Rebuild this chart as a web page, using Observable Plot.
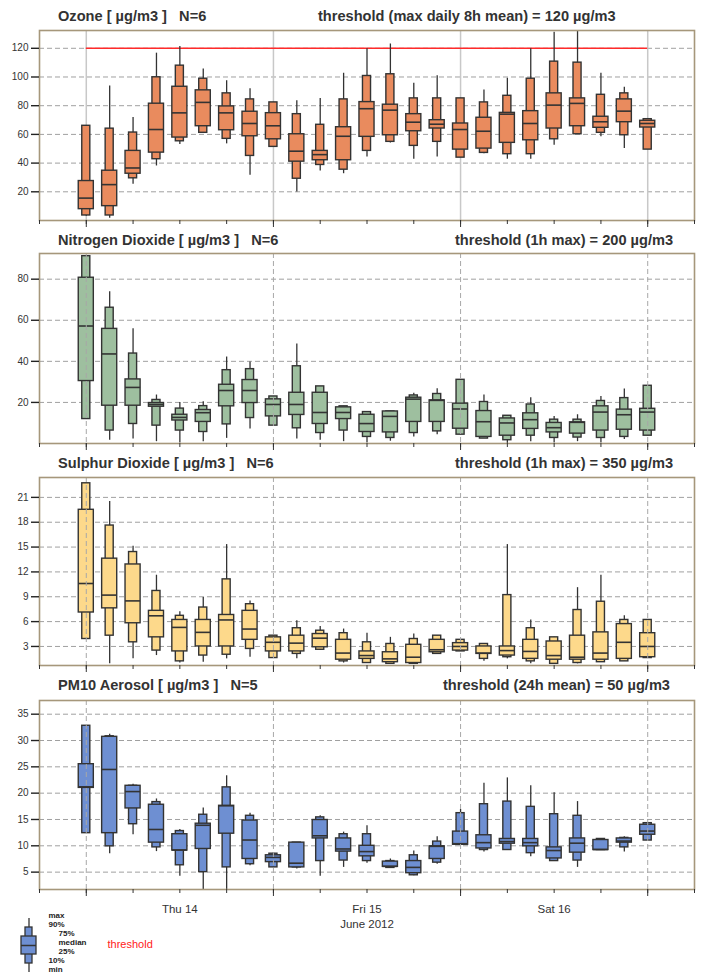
<!DOCTYPE html>
<html><head><meta charset="utf-8">
<script src="https://cdn.jsdelivr.net/npm/d3@7"></script>
<script src="https://cdn.jsdelivr.net/npm/@observablehq/plot@0.6"></script>
<style>
body{margin:0;background:#fff;font-family:"Liberation Sans",Arial,sans-serif;}
#root{position:relative;width:702px;height:980px;overflow:hidden;background:#fff;}
.t{position:absolute;font-weight:bold;font-size:14.6px;color:#333;white-space:pre;line-height:16px;}
.p{position:absolute;left:0;}
</style></head><body><div id="root"></div>
<script>
// sample times (3-hourly, UTC)
const times = [
 "2012-06-14T00:00","2012-06-14T03:00","2012-06-14T06:00","2012-06-14T09:00","2012-06-14T12:00","2012-06-14T15:00","2012-06-14T18:00","2012-06-14T21:00",
 "2012-06-15T00:00","2012-06-15T03:00","2012-06-15T06:00","2012-06-15T09:00","2012-06-15T12:00","2012-06-15T15:00","2012-06-15T18:00","2012-06-15T21:00",
 "2012-06-16T00:00","2012-06-16T03:00","2012-06-16T06:00","2012-06-16T09:00","2012-06-16T12:00","2012-06-16T15:00","2012-06-16T18:00","2012-06-16T21:00",
 "2012-06-17T00:00"];
const dayLines = ["2012-06-14T00:00","2012-06-15T00:00","2012-06-16T00:00","2012-06-17T00:00"];
const dayLabelTimes = ["2012-06-14T12:00","2012-06-15T12:00","2012-06-16T12:00"];
const dayLabels = ["Thu 14","Fri 15\nJune 2012","Sat 16"];
const xStart = "2012-06-13T18:00", xEnd = "2012-06-17T06:00";

// rows: [min, p10, p25, median, p75, p90, max]
const ozone = [
 [3,3.5,7.9,15.6,27.5,66,66],[1.5,3.5,10,25,34.7,64,93.7],[25.2,29.4,32.6,36.6,48.5,61.3,71.8],[38,42.7,47.3,63.4,81.4,99.8,116.6],
 [52.9,55.2,57.8,75,93.2,107.9,121.2],[61,61.1,65.7,82.3,90.7,98.8,105.6],[53.4,56.9,62.9,75,79.5,88.6,97.4],[31.5,45,58.7,67.6,75.8,84.4,91.8],
 [51,51.3,56.6,66,74.8,82.3,82.3],[19.8,29.1,41,48.3,60.1,74.1,83.4],[34.5,38.7,42,45.9,48.5,66.7,85],[32.6,35.4,42,58.7,65,84.4,102.6],
 [44.3,48.5,58.3,77.9,82.5,100.7,119.6],[54,54.8,59.4,76.9,80.7,101.9,123],[42.7,52,62.2,68.5,74.1,85.1,95.6],[44.3,54.8,64.1,67.1,69.9,85.1,100.9],
 [43.8,43.8,49.4,63.4,67.6,85.1,85.1],[46.6,47.1,50.1,62.2,71.6,82.3,90.9],[42.7,46.2,54.1,74.1,75,86.9,99.1],[42.7,46.2,55.9,67.6,76.2,98.8,119.6],
 [52.4,56.6,64.1,80.4,88.6,110.7,131.2],[60.1,60.1,65.7,81.6,85.1,110,132],[58.3,61.1,64.6,68.8,72.3,87.6,102.6],[50.1,59.4,68.5,76.2,84.4,88.6,92.8],
 [49.4,49.4,64.8,67.6,69.5,70.6,70.6]];
const no2 = [
 [11.9,11.9,30.4,57.2,80.7,91.2,91.2],[1.6,6.3,18.4,43.6,55.8,66.1,73.9],[2.2,9.5,18.4,27.3,31.2,43.8,55.9],[0.9,8.7,17.9,19,19.7,21.2,23.6],
 [0.3,6.3,11.2,12.7,14,17,20],[0.8,5.6,10.5,15,16.3,18.2,20.3],[2.5,9.3,18.1,25.8,28.6,35.7,42.1],[7.1,12.4,19.7,25.8,30.9,36.2,39.7],
 [8.7,8.7,13.2,19,21.5,22.9,22.9],[2.2,7.4,13.9,19,24.7,37.6,48.5],[1.6,5.1,9.5,15.1,24.7,27.8,27.8],[0.9,6.3,11.9,15.1,17.6,18.1,18.1],
 [0.3,3.2,5.6,9.7,14,15.3,15.3],[1.1,2.7,5.4,13.2,15.6,15.6,15.6],[3.2,5.1,10.5,21.6,22.3,23.4,24.5],[4.3,5.9,10.5,21,21,24.1,26.6],
 [4.3,4.3,7.2,16.8,19.4,31,31],[2.4,2.4,3.2,10.6,15.8,20.2,23.6],[0,1.6,3.8,10,12.2,13.5,13.5],[0.9,3.8,7.1,11.6,14.7,19,22.3],
 [0.3,2.7,5.4,7.7,10,11.6,13.2],[0.9,2.9,4.8,10.3,10.3,11.6,14],[0.3,2.7,6.3,15.3,18.1,20.7,22.9],[1.9,3.2,6.7,14,16.5,22.1,26.5],
 [3.8,3.8,6.3,15.3,16.9,28.1,28.1]];
const so2 = [
 [3.9,3.9,7.1,10.6,19.5,22.7,22.7],[0.9,4.3,7.6,9.2,13.6,17.6,20.5],[1.5,3.5,5.8,8.5,12.9,14.4,15.1],[1.9,2.5,4.1,6.7,7.3,9.7,11.6],
 [1.0,1.2,2.4,5.3,6.2,6.7,7.2],[1.1,1.9,3.0,4.7,6.2,7.7,8.9],[1.5,2.0,3.0,6.2,6.8,11.1,15.3],[1.7,2.7,3.8,5.1,7.3,8.1,8.5],
 [1.6,1.6,2.4,3.5,4.1,4.3,4.3],[1.5,2.1,2.4,3.4,4.3,5.2,6.1],[2.5,2.6,2.9,4.0,4.5,4.9,5.4],[1.0,1.2,1.4,2.2,3.8,4.6,5.1],
 [1.0,1.0,1.5,1.9,2.4,3.5,4.6],[0.9,0.9,1.1,1.5,2.3,3.3,4.1],[0.9,0.9,1.0,1.7,3.2,3.9,4.5],[2.1,2.1,2.3,2.6,3.8,4.3,4.3],
 [2.4,2.4,2.5,3.0,3.4,3.8,3.8],[1.2,1.5,2.1,2.2,3.0,3.3,3.3],[1.5,1.7,1.9,2.5,3.0,9.2,15.3],[0.9,1.2,1.5,2.4,3.8,5.2,6.2],
 [0.9,0.9,1.4,1.9,3.6,4.1,4.1],[0.9,1.0,1.4,1.7,4.3,7.4,10.1],[1.1,1.1,1.4,2.2,4.7,8.4,11.6],[1.2,1.2,1.5,3.5,5.7,6.2,6.7],
 [1.6,1.6,1.7,3.0,4.6,6.2,6.2]];
const pm10 = [
 [12.4,12.4,21.0,21.2,25.5,32.8,32.8],[8.5,9.9,12.4,24.5,30.7,30.8,31.2],[12.1,14.1,17.1,20.3,21.4,21.4,21.7],[8.9,9.7,10.6,13.1,17.8,18.3,18.9],
 [4.2,6.3,9.1,9.2,12.2,12.8,13.1],[1.0,5.0,9.4,13.9,14.2,15.9,17.2],[1.0,5.9,12.3,17.6,17.6,21.1,23.3],[6.2,6.5,7.5,11.1,14.8,15.7,16.2],
 [5.9,5.9,6.9,7.8,8.2,8.5,8.7],[5.6,5.9,5.9,6.7,10.6,10.6,10.6],[4.2,7.1,11.4,11.9,14.9,15.4,15.7],[5.9,7.2,8.9,9.4,11.4,12.2,12.6],
 [6.7,7.1,8.0,8.9,10.0,12.2,13.8],[5.8,5.8,6.0,6.1,7.0,7.1,7.5],[4.3,4.4,4.8,5.9,7.1,8.2,9.0],[6.5,6.8,7.5,9.9,9.9,10.8,11.7],
 [10.2,10.2,10.2,10.4,12.7,16.2,16.9],[8.8,9.2,9.5,10.6,12.0,17.9,21.9],[9.2,9.2,10.4,10.8,11.3,18.4,22.9],[7.9,8.6,9.9,10.6,11.3,17.4,21.4],
 [7.1,7.1,7.6,9.1,9.7,16.0,20.1],[5.9,7.2,8.7,10.5,11.4,15.7,18.4],[9.2,9.2,9.2,9.3,11.1,11.3,11.3],[8.8,9.7,10.6,10.9,11.4,11.5,11.7],
 [11.0,11.0,12.1,12.8,14.0,14.3,14.4]];

const ozoneTicks = [20,40,60,80,100,120];
const no2Ticks = [20,40,60,80];
const so2Ticks = [3,6,9,12,15,18,21];
const pm10Ticks = [5,10,15,20,25,30,35];
const ozoneThreshold = [120];

const legendLevels = ["min","10%","25%","median","75%","90%","max"];

const T = s => new Date(s + ":00Z");
const FONT = '"Liberation Sans", Arial, sans-serif';
const root = document.getElementById("root");

function addTitle(text, left, top) {
  const d = document.createElement("div");
  d.className = "t"; d.textContent = text;
  d.style.left = left + "px"; d.style.top = top + "px";
  root.appendChild(d);
}

function panel(cfg) {
  const data = cfg.rows.map((r, i) => ({t: T(times[i]), min: r[0], p10: r[1], p25: r[2], med: r[3], p75: r[4], p90: r[5], max: r[6]}));
  const mt = 4, mb = cfg.last ? 50 : 9;
  const H = cfg.bottom - cfg.top + mt + mb;
  const off = m => d => new Date(d.t.getTime() + m * 60000);
  const days = dayLines.map(T);
  const sixH = d3.utcHour.every(6).range(T(xStart), new Date(T(xEnd).getTime() + 1));
  const stroke = "#333";
  const marks = [
    Plot.gridY({ticks: cfg.ticks, stroke: "#a0a0a0", strokeOpacity: 1, strokeDasharray: "5,3", strokeWidth: 1}),
    cfg.solidDays ? Plot.ruleX(days, {stroke: "#c8c8c8", strokeWidth: 1.5}) : null,
    cfg.threshold ? Plot.ruleY(cfg.threshold, {x1: () => T(times[0]), x2: () => T(times[times.length - 1]), stroke: "#ff2a2a", strokeWidth: 1.5}) : null,
    Plot.ruleX(data, {x: "t", y1: "min", y2: "max", stroke, strokeWidth: 1.3, clip: true}),
    Plot.rect(data, {x1: off(-31), x2: off(31), y1: "p10", y2: "p90", fill: cfg.fill, stroke, strokeWidth: 1.4, clip: true}),
    Plot.rect(data, {x1: off(-58), x2: off(58), y1: "p25", y2: "p75", fill: cfg.fill, stroke, strokeWidth: 1.4, clip: true}),
    Plot.ruleY(data, {y: "med", x1: off(-58), x2: off(58), stroke, strokeWidth: 1.6}),
    cfg.solidDays ? null : Plot.ruleX(days, {stroke: "#a8a8a8", strokeDasharray: "5,3", strokeWidth: 1}),
    Plot.frame({stroke: "#a6977b", strokeWidth: 1.6}),
    Plot.axisY({ticks: cfg.ticks, tickSize: 8, tickPadding: 3, label: null, fontSize: 10, stroke: "#222", strokeWidth: 1.4}),
    Plot.axisX({ticks: sixH, tickSize: 4, tickFormat: () => "", label: null, stroke: "#333"}),
    Plot.axisX({ticks: days, tickSize: 7, tickFormat: () => "", label: null, stroke: "#333"}),
    cfg.last ? Plot.axisX({ticks: dayLabelTimes.map(T), tickSize: 0, tickPadding: 12, label: null, fontSize: 11.5, lineHeight: 1.35,
      tickFormat: d => dayLabels[dayLabelTimes.map(T).findIndex(x => +x === +d)]}) : null
  ];
  const svg = Plot.plot({
    width: 702, height: H,
    marginLeft: 39, marginRight: 8, marginTop: mt, marginBottom: mb,
    style: {fontFamily: FONT, fontSize: "10px", color: "#333", background: "transparent", overflow: "visible"},
    x: {type: "utc", domain: [T(xStart), T(xEnd)], axis: null},
    y: {domain: cfg.domain, axis: null},
    marks
  });
  svg.classList.add("p");
  svg.style.top = (cfg.top - mt) + "px";
  root.appendChild(svg);
}

panel({rows: ozone, fill: "#e98b5e", domain: [0, 132.4], ticks: ozoneTicks, solidDays: true, threshold: ozoneThreshold, top: 30, bottom: 220});
panel({rows: no2, fill: "#9ebf9f", domain: [0, 92.5], ticks: no2Ticks, top: 253, bottom: 443});
panel({rows: so2, fill: "#fdd98b", domain: [0.7, 23.4], ticks: so2Ticks, top: 477, bottom: 665});
panel({rows: pm10, fill: "#6e8fd2", domain: [1.7, 37.6], ticks: pm10Ticks, top: 700, bottom: 889, last: true});

addTitle("Ozone [ µg/m3 ]   N=6", 58, 8);
addTitle("threshold (max daily 8h mean) = 120 µg/m3", 318, 8);
addTitle("Nitrogen Dioxide [ µg/m3 ]   N=6", 58, 232);
addTitle("threshold (1h max) = 200 µg/m3", 455, 232);
addTitle("Sulphur Dioxide [ µg/m3 ]   N=6", 58, 455);
addTitle("threshold (1h max) = 350 µg/m3", 455, 455);
addTitle("PM10 Aerosol [ µg/m3 ]   N=5", 58, 677);
addTitle("threshold (24h mean) = 50 µg/m3", 443, 677);

// legend
const lg = legendLevels.map((name, i) => ({name, i}));
const glyph = [{min: 0, p10: 1, p25: 2, med: 3, p75: 4, p90: 5, max: 6}];
const leg = Plot.plot({
  width: 170, height: 70, margin: 0, marginTop: 8, marginBottom: 8,
  x: {domain: [0, 170], range: [0, 170], axis: null},
  y: {domain: [0, 6], axis: null},
  style: {fontFamily: FONT, color: "#222", background: "transparent", overflow: "visible"},
  marks: [
    Plot.ruleX(glyph, {x: () => 28.5, y1: "min", y2: "max", stroke: "#333", strokeWidth: 1.3}),
    Plot.rect(glyph, {x1: () => 25, x2: () => 32, y1: "p10", y2: "p90", fill: "#6e8fd2", stroke: "#333", strokeWidth: 1.3}),
    Plot.rect(glyph, {x1: () => 21, x2: () => 36, y1: "p25", y2: "p75", fill: "#6e8fd2", stroke: "#333", strokeWidth: 1.3}),
    Plot.ruleY(glyph, {y: "med", x1: () => 21, x2: () => 36, stroke: "#333", strokeWidth: 1.5}),
    Plot.text(lg, {x: d => (d.i >= 2 && d.i <= 4) ? 58 : 48, y: "i", text: "name", textAnchor: "start", dy: -3, fontSize: 8, fontWeight: "bold"}),
    Plot.text(["threshold"], {x: () => 107, y: () => 3, text: d => d, textAnchor: "start", fill: "#ff2020", fontSize: 11, dy: -1})
  ]
});
leg.classList.add("p");
leg.style.top = "910px";
root.appendChild(leg);
</script></body></html>
